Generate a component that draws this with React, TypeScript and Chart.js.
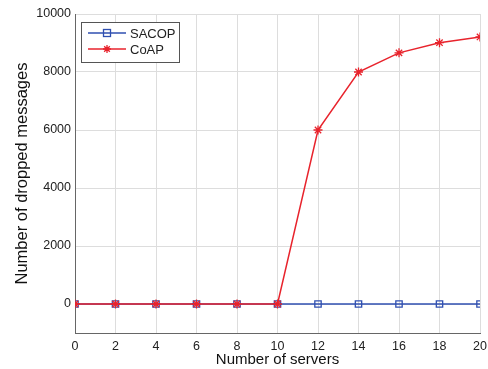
import React, { useEffect, useRef } from "react";
import { Chart, registerables } from "chart.js";

Chart.register(...registerables);

const servers = [0, 2, 4, 6, 8, 10, 12, 14, 16, 18, 20];
const sacop = [0, 0, 0, 0, 0, 0, 0, 0, 0, 0, 0];
const coap = [0, 0, 0, 0, 0, 0, 6000, 8000, 8660, 9010, 9210];
const yTicks = [0, 2000, 4000, 6000, 8000, 10000];
const xTicks = [0, 2, 4, 6, 8, 10, 12, 14, 16, 18, 20];
const seriesNames = ["SACOP", "CoAP"];

const BLUE = "#2f4fb0";
const RED = "#e8232c";
const FONT = "'Liberation Sans', Arial, sans-serif";

const legendPlugin = {
  id: "matlabLegend",
  afterDraw(chart: any) {
    const ctx = chart.ctx;
    ctx.save();
    const x0 = 81, y0 = 22, w = 98, h = 40;
    ctx.fillStyle = "#ffffff";
    ctx.fillRect(x0, y0, w, h);
    ctx.strokeStyle = "#555555";
    ctx.lineWidth = 1;
    ctx.strokeRect(x0 + 0.5, y0 + 0.5, w, h);
    const rows = [
      { y: 33, color: BLUE, style: "rect", label: seriesNames[0] },
      { y: 49, color: RED, style: "star", label: seriesNames[1] },
    ];
    rows.forEach((r) => {
      ctx.strokeStyle = r.color;
      ctx.lineWidth = 1.5;
      ctx.beginPath();
      ctx.moveTo(88, r.y);
      ctx.lineTo(126, r.y);
      ctx.stroke();
      ctx.lineWidth = 1.3;
      if (r.style === "rect") {
        ctx.strokeRect(103.5, r.y - 3.5, 7, 7);
      } else {
        const cx = 107, cy = r.y, s = 4;
        ctx.beginPath();
        for (let i = 0; i < 4; i++) {
          const a = (i * Math.PI) / 4;
          ctx.moveTo(cx - s * Math.cos(a), cy - s * Math.sin(a));
          ctx.lineTo(cx + s * Math.cos(a), cy + s * Math.sin(a));
        }
        ctx.stroke();
      }
      ctx.fillStyle = "#222222";
      ctx.font = `13px ${FONT}`;
      ctx.textBaseline = "middle";
      ctx.textAlign = "left";
      ctx.fillText(r.label, 130, r.y + 1);
    });
    ctx.restore();
  },
};

export default function App() {
  const ref = useRef<HTMLCanvasElement>(null);
  useEffect(() => {
    if (!ref.current) return;
    const chart = new Chart(ref.current, {
      type: "line",
      data: {
        labels: servers,
        datasets: [
          {
            label: seriesNames[0],
            data: servers.map((x, i) => ({ x, y: sacop[i] })),
            borderColor: BLUE,
            backgroundColor: "rgba(0,0,0,0)",
            borderWidth: 1.5,
            pointStyle: "rect",
            pointRadius: 4.5,
            pointBorderWidth: 1.3,
            pointBorderColor: BLUE,
            pointBackgroundColor: "rgba(0,0,0,0)",
            order: 2,
          },
          {
            label: seriesNames[1],
            data: servers.map((x, i) => ({ x, y: coap[i] })),
            borderColor: RED,
            backgroundColor: RED,
            borderWidth: 1.5,
            pointStyle: "star",
            pointRadius: 4.5,
            pointBorderWidth: 1.3,
            pointBorderColor: RED,
            order: 1,
          },
        ],
      },
      options: {
        animation: false,
        responsive: false,
        layout: { padding: { top: 14, right: 8, left: 0, bottom: 0 } },
        plugins: { legend: { display: false }, tooltip: { enabled: false } },
        scales: {
          x: {
            type: "linear",
            min: 0,
            max: 20,
            afterBuildTicks: (s: any) => {
              s.ticks = xTicks.map((v) => ({ value: v }));
            },
            afterFit: (s: any) => {
              s.height = 36;
              s.paddingLeft = 0;
              s.paddingRight = 0;
            },
            grid: { color: "#dddddd", drawTicks: false, lineWidth: 1 },
            border: { color: "#666666", width: 1 },
            ticks: {
              color: "#222222",
              font: { family: FONT, size: 12.5 },
              padding: 6,
              maxRotation: 0,
              callback: (v: any) => String(v),
            },
            title: {
              display: true,
              text: "Number of servers",
              color: "#111111",
              font: { family: FONT, size: 15 },
              padding: { top: 0, bottom: 0 },
            },
          },
          y: {
            type: "linear",
            min: -1000,
            max: 10000,
            afterBuildTicks: (s: any) => {
              s.ticks = yTicks.map((v) => ({ value: v }));
            },
            afterFit: (s: any) => {
              s.width = 75;
              s.paddingTop = 0;
              s.paddingBottom = 0;
            },
            grid: { color: "#dddddd", drawTicks: false, lineWidth: 1 },
            border: { color: "#666666", width: 1 },
            ticks: {
              color: "#222222",
              font: { family: FONT, size: 12.5 },
              padding: 4,
              callback: (v: any) => String(v),
            },
            title: {
              display: true,
              text: "Number of dropped messages",
              color: "#111111",
              font: { family: FONT, size: 16.5 },
              padding: { top: 13, bottom: 0 },
            },
          },
        },
      },
      plugins: [legendPlugin],
    } as any);
    return () => chart.destroy();
  }, []);
  return (
    <div style={{ position: "fixed", left: 0, top: 0, width: 488, height: 369, background: "#fff" }}>
      <canvas ref={ref} width={488} height={369} style={{ display: "block" }} />
    </div>
  );
}
